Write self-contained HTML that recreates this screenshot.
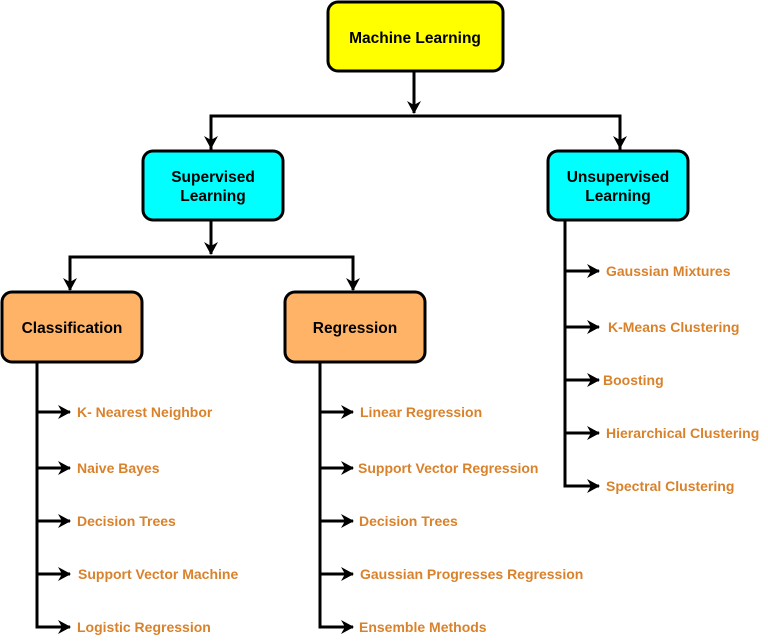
<!DOCTYPE html>
<html><head><meta charset="utf-8"><style>
body{margin:0;background:#fff;width:768px;height:636px;overflow:hidden}
svg text{font-family:"Liberation Sans",Arial,sans-serif;font-weight:bold}
</style></head><body>
<svg width="768" height="636" viewBox="0 0 768 636" xmlns="http://www.w3.org/2000/svg">
<defs><marker id="a" markerWidth="14" markerHeight="14" refX="12" refY="7" orient="auto" markerUnits="userSpaceOnUse"><path d="M0,0 L13,7 L0,14 L4,7 Z" fill="#000"/></marker></defs>
<g stroke="#000" stroke-width="3" fill="none">
<path d="M414 71 V113" marker-end="url(#a)"/>
<path d="M211 150 V116 H620 V150" />
<path d="M211 130 V148" marker-end="url(#a)"/>
<path d="M620 130 V148" marker-end="url(#a)"/>
<path d="M211 221 V254" marker-end="url(#a)"/>
<path d="M70 290 V257 H353 V290"/>
<path d="M70 272 V290" marker-end="url(#a)"/>
<path d="M353 272 V290" marker-end="url(#a)"/>
<path d="M37 363 V627 H68"/>
<path d="M320 363 V627 H352"/>
<path d="M565 221 V486 H598"/>
</g>
<g stroke="#000" stroke-width="3">
<line x1="37" y1="412" x2="70" y2="412" marker-end="url(#a)"/>
<line x1="37" y1="468" x2="70" y2="468" marker-end="url(#a)"/>
<line x1="37" y1="521" x2="70" y2="521" marker-end="url(#a)"/>
<line x1="37" y1="574" x2="70" y2="574" marker-end="url(#a)"/>
<line x1="37" y1="627" x2="70" y2="627" marker-end="url(#a)"/>
<line x1="320" y1="412" x2="353" y2="412" marker-end="url(#a)"/>
<line x1="320" y1="468" x2="353" y2="468" marker-end="url(#a)"/>
<line x1="320" y1="521" x2="353" y2="521" marker-end="url(#a)"/>
<line x1="320" y1="574" x2="353" y2="574" marker-end="url(#a)"/>
<line x1="320" y1="627" x2="353" y2="627" marker-end="url(#a)"/>
<line x1="565" y1="271" x2="599" y2="271" marker-end="url(#a)"/>
<line x1="565" y1="327" x2="599" y2="327" marker-end="url(#a)"/>
<line x1="565" y1="380" x2="599" y2="380" marker-end="url(#a)"/>
<line x1="565" y1="433" x2="599" y2="433" marker-end="url(#a)"/>
<line x1="565" y1="486" x2="599" y2="486" marker-end="url(#a)"/>
</g>
<g stroke="#000" stroke-width="3">
<rect x="328" y="2" width="175" height="69" rx="10" fill="#ffff00"/>
<rect x="143" y="151" width="140" height="69" rx="10" fill="#00ffff"/>
<rect x="548" y="151" width="140" height="69" rx="10" fill="#00ffff"/>
<rect x="2" y="292" width="140" height="70" rx="10" fill="#ffb366"/>
<rect x="285" y="292" width="140" height="70" rx="10" fill="#ffb366"/>
</g>
<g font-size="15.5" fill="#000" text-anchor="middle">
<text x="415" y="43">Machine Learning</text>
<text x="213" y="182">Supervised</text><text x="213" y="201">Learning</text>
<text x="618" y="182">Unsupervised</text><text x="618" y="201">Learning</text>
<text x="72" y="333">Classification</text>
<text x="355" y="333">Regression</text>
</g>
<g font-size="14" fill="#d9822b">
<text x="77" y="417">K- Nearest Neighbor</text>
<text x="77" y="473">Naive Bayes</text>
<text x="77" y="526">Decision Trees</text>
<text x="78" y="579">Support Vector Machine</text>
<text x="77" y="632">Logistic Regression</text>
<text x="360" y="417">Linear Regression</text>
<text x="358" y="473">Support Vector Regression</text>
<text x="359" y="526">Decision Trees</text>
<text x="360" y="579">Gaussian Progresses Regression</text>
<text x="359" y="632">Ensemble Methods</text>
<text x="606" y="276">Gaussian Mixtures</text>
<text x="608" y="332">K-Means Clustering</text>
<text x="603" y="385">Boosting</text>
<text x="606" y="438">Hierarchical Clustering</text>
<text x="606" y="491">Spectral Clustering</text>
</g>
</svg>
</body></html>
